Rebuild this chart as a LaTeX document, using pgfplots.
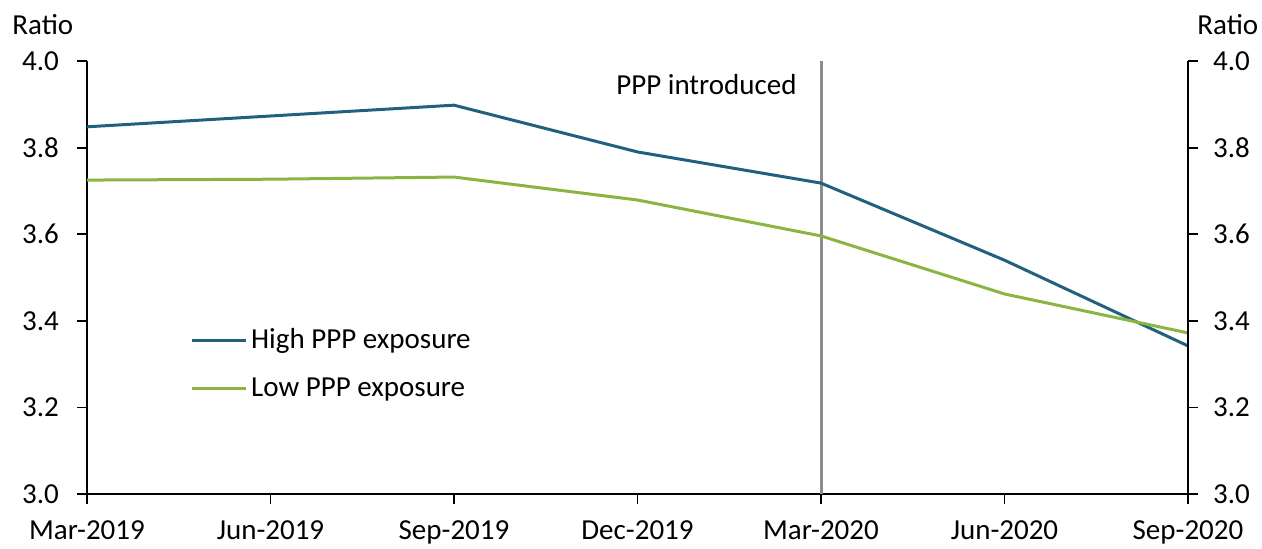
\documentclass[border=0pt]{standalone}
\usepackage{pgfplots}
\pgfplotsset{compat=1.18}
\usepackage{fontspec}
\setmainfont{Carlito}
\definecolor{highblue}{HTML}{21617F}
\definecolor{lowgreen}{HTML}{8BB543}
\definecolor{markgray}{HTML}{8C8C8C}

\begin{document}
\begin{tikzpicture}[font=\fontsize{14.5}{17}\selectfont]
\path[use as bounding box] (-43.5pt,-27pt) rectangle (587.5pt,247pt);
\pgfplotsset{
  base/.style={
    scale only axis, width=550.5pt, height=216.5pt,
    at={(0,0)}, anchor=south west, clip=false,
    xmin=0, xmax=6, ymin=3, ymax=4,
    ytick={3,3.2,3.4,3.6,3.8,4},
    tick align=outside, major tick length=5pt,
    axis line style={line width=0.9pt, black},
    tick style={line width=0.9pt, black},
    /pgf/number format/assume math mode=true,
    /pgf/number format/.cd, fixed, fixed zerofill, precision=1,
  }
}
\begin{axis}[
  base,
  axis x line*=bottom, axis y line*=left,
  xtick={0,...,6},
  xticklabels={Mar-2019,Jun-2019,Sep-2019,Dec-2019,Mar-2020,Jun-2020,Sep-2020},
  x tick label style={yshift=-5pt},
  y tick label style={xshift=-5.5pt},
  legend cell align=left,
  legend style={draw=none, fill=none, at={(axis cs:0.56,3.392)}, anchor=north west,
    row sep=9pt, inner sep=0pt,
    /tikz/every even column/.append style={column sep=0pt}},
  legend image code/.code={\draw[#1, line width=1.5pt] (0pt,0pt) -- (27pt,0pt);},
]
\addplot[markgray, line width=1.5pt, forget plot] coordinates {(4,3) (4,4)};
\addplot[highblue, line width=1.5pt] coordinates {
  (0,3.848) (1,3.873) (2,3.898) (3,3.790) (4,3.718) (5,3.540) (6,3.342)
};
\addlegendentry{High PPP exposure}
\addplot[lowgreen, line width=1.5pt] coordinates {
  (0,3.725) (1,3.727) (2,3.732) (3,3.679) (4,3.596) (5,3.462) (6,3.372)
};
\addlegendentry{Low PPP exposure}
\node[anchor=east] at (axis cs:3.905,3.945) {PPP introduced};
\node[anchor=base west, inner sep=0pt, xshift=-37.5pt, yshift=13.5pt] at (rel axis cs:0,1) {Ratio};
\end{axis}
\begin{axis}[
  base,
  axis x line=none, axis y line*=right,
  xtick=\empty,
  y tick label style={xshift=4pt},
]
\node[anchor=base west, inner sep=0pt, xshift=4.5pt, yshift=13.5pt] at (rel axis cs:1,1) {Ratio};
\end{axis}
\end{tikzpicture}
\end{document}
